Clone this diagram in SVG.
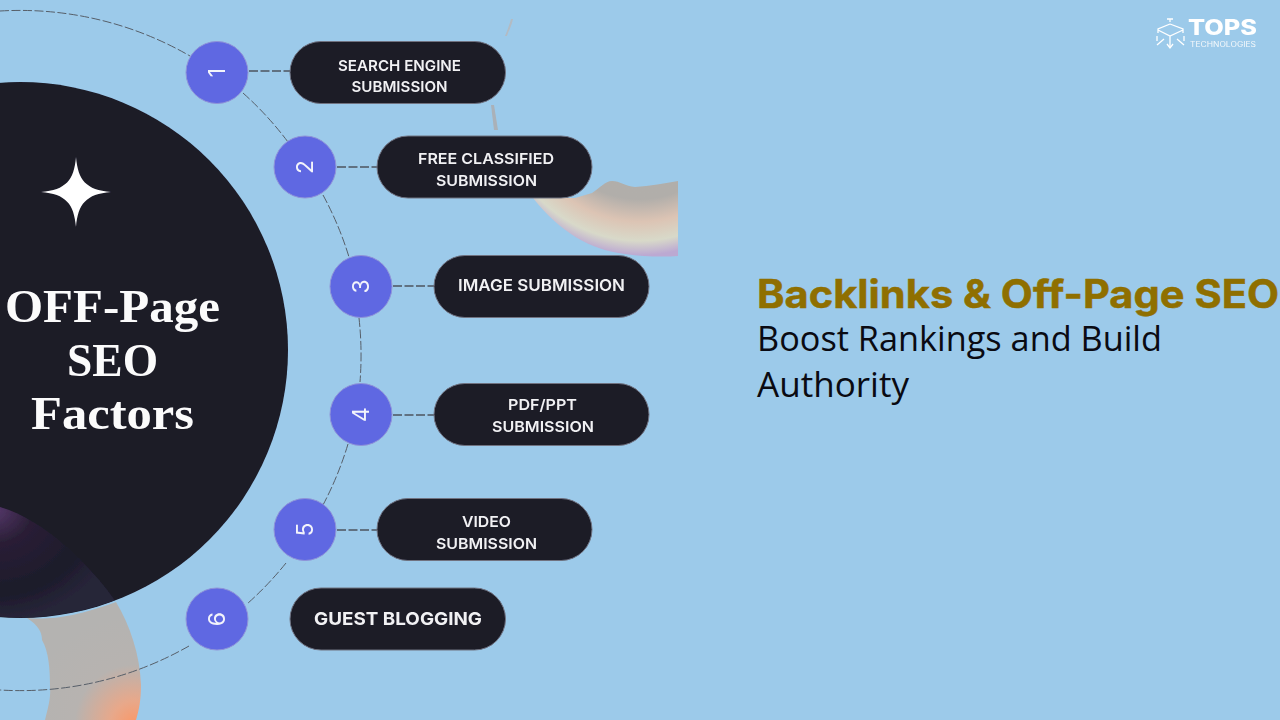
<svg xmlns="http://www.w3.org/2000/svg" width="1280" height="720" viewBox="0 0 1280 720">
<style>
.pill{fill:#1b1a27;stroke:#6f7280;stroke-width:1}
.num{fill:#5f68e2;stroke:#8f93d8;stroke-width:1}
.numt{font-family:Inter,"Liberation Sans",sans-serif;font-size:23px;font-weight:400;fill:#f3f4fb;text-anchor:middle}
.pt{font-family:Inter,"Liberation Sans",sans-serif;font-weight:600;font-size:15px;fill:#f1f1f3;text-anchor:middle}
.big{font-family:"Liberation Serif",serif;font-weight:700;font-size:47px;fill:#fbfbfb;text-anchor:middle}
.conn{fill:none;stroke:#565e68;stroke-width:1;stroke-dasharray:9 2.5}
.stub{fill:none;stroke:#4c5560;stroke-width:1.4;stroke-dasharray:9 2.5}
.sub{font-family:"Open Sans",sans-serif;font-size:34px;fill:#0a0a12}
</style>
<defs>
<radialGradient id="g1" cx="640" cy="100" r="160" gradientUnits="userSpaceOnUse"><stop offset="0" stop-color="#b0afab"/><stop offset=".62" stop-color="#b1aeaa"/><stop offset=".76" stop-color="#dcc4b4"/><stop offset=".88" stop-color="#d8d9c9"/><stop offset=".97" stop-color="#bca9d2"/></radialGradient>
<radialGradient id="g2" cx="135" cy="725" r="110" gradientUnits="userSpaceOnUse"><stop offset="0" stop-color="#fb9766"/><stop offset=".22" stop-color="#e8a88a"/><stop offset=".55" stop-color="#b7b3b0"/><stop offset="1" stop-color="#b4b3b1"/></radialGradient>
<radialGradient id="g3" cx="0" cy="0" r="1" gradientUnits="userSpaceOnUse" gradientTransform="translate(-5 510) scale(125 110)"><stop offset="0" stop-color="#55376a"/><stop offset=".3" stop-color="#2a1f36"/><stop offset=".75" stop-color="#1c1a2a"/><stop offset="1" stop-color="#272539"/></radialGradient>
<filter id="soft" x="-5%" y="-5%" width="110%" height="110%"><feGaussianBlur stdDeviation="0.5"/></filter>
<clipPath id="bigclip"><circle cx="20" cy="350" r="267.500"/></clipPath>
</defs>
<rect width="1280" height="720" fill="#9ccaea"/>
<g id="decor" filter="url(#soft)">
<path d="M533 198C560 232 590 250 625 254C645 257 665 257 678 256V181C665 183 650 186 635 187C625 186 620 181 612 181C605 181 600 188 592 193L575 198Z" fill="url(#g1)"/>
<path d="M511 19C509 26 507 31 505 36L507 36C509 30 512 25 513 19Z" fill="#b3bbc3"/>
<path d="M491 105L494 130L498 130L494 105Z" fill="#aab1b8"/>
<path d="M27 618C50 620 75 617 116 602C130 625 140 655 141 685C141 700 139 710 136 720H45C48 708 51 697 50 688C50 670 49 652 42 640C42 632 38 625 27 618Z" fill="url(#g2)"/>
</g>
<g id="hub" filter="url(#soft)">
<circle cx="20" cy="350" r="268" fill="#1b1a27"/>
<path d="M0 507C45 520 90 565 116 602C80 615 40 620 0 618Z" fill="url(#g3)" clip-path="url(#bigclip)"/>
<path d="M76 157C78 180 86 190 111 192C86 194 78 204 76 227C74 204 66 194 41 192C66 190 74 180 76 157Z" fill="#fff"/>
<text class="big" x="112.500" y="322" textLength="215" lengthAdjust="spacingAndGlyphs">OFF-Page</text>
<text class="big" x="112.500" y="376" textLength="91" lengthAdjust="spacingAndGlyphs">SEO</text>
<text class="big" x="112.500" y="429" textLength="163" lengthAdjust="spacingAndGlyphs">Factors</text>
</g>
<g id="connectors" filter="url(#soft)">
<path class="conn" d="M0 11A340 340 0 0 1 190 56"/>
<path class="conn" d="M243 93A340 340 0 0 1 288 142"/>
<path class="conn" d="M323 195A340 340 0 0 1 349 257"/>
<path class="conn" d="M359 318A340 340 0 0 1 360 382"/>
<path class="conn" d="M348 444A340 340 0 0 1 323 505"/>
<path class="conn" d="M286 563A340 340 0 0 1 247 604"/>
<path class="conn" d="M189 646A340 340 0 0 1 0 690"/>
<path class="stub" d="M249 71H290"/>
<path class="stub" d="M337 167H377"/>
<path class="stub" d="M393 286H434"/>
<path class="stub" d="M393 415H434"/>
<path class="stub" d="M337 530H377"/>
</g>
<g filter="url(#soft)">
<g id="node1"><circle class="num" cx="217" cy="72.500" r="31"/><text class="numt" transform="translate(217 72.500) rotate(-90)" y="8">1</text><rect class="pill" x="290" y="41.500" width="215.500" height="62" rx="31"/><text class="pt" x="399.500" y="71" textLength="123" lengthAdjust="spacingAndGlyphs">SEARCH ENGINE</text><text class="pt" x="399.500" y="92" textLength="96" lengthAdjust="spacingAndGlyphs">SUBMISSION</text></g>
<g id="node2"><circle class="num" cx="305" cy="167" r="31"/><text class="numt" transform="translate(305 167) rotate(-90)" y="8">2</text><rect class="pill" x="377" y="136" width="215" height="62" rx="31"/><text class="pt" x="486" y="164" textLength="136" lengthAdjust="spacingAndGlyphs">FREE CLASSIFIED</text><text class="pt" x="486.500" y="186" textLength="101" lengthAdjust="spacingAndGlyphs">SUBMISSION</text></g>
<g id="node3"><circle class="num" cx="361" cy="286.500" r="31"/><text class="numt" transform="translate(361 286.500) rotate(-90)" y="8">3</text><rect class="pill" x="434" y="255.500" width="215" height="62" rx="31"/><text class="pt" x="541.500" y="291" textLength="167" lengthAdjust="spacingAndGlyphs" style="font-size:16px">IMAGE SUBMISSION</text></g>
<g id="node4"><circle class="num" cx="361" cy="414.500" r="31"/><text class="numt" transform="translate(361 414.500) rotate(-90)" y="8">4</text><rect class="pill" x="434" y="383.500" width="215" height="62" rx="31"/><text class="pt" x="542.500" y="410" textLength="69" lengthAdjust="spacingAndGlyphs">PDF/PPT</text><text class="pt" x="543" y="432" textLength="102" lengthAdjust="spacingAndGlyphs">SUBMISSION</text></g>
<g id="node5"><circle class="num" cx="305" cy="529.500" r="31"/><text class="numt" transform="translate(305 529.500) rotate(-90)" y="8">5</text><rect class="pill" x="377" y="498.500" width="215" height="62" rx="31"/><text class="pt" x="486.500" y="527" textLength="49" lengthAdjust="spacingAndGlyphs">VIDEO</text><text class="pt" x="486.500" y="549" textLength="101" lengthAdjust="spacingAndGlyphs">SUBMISSION</text></g>
<g id="node6"><circle class="num" cx="217" cy="619" r="31"/><text class="numt" transform="translate(217 619) rotate(-90)" y="8">6</text><rect class="pill" x="290" y="588" width="215.500" height="62" rx="31"/><text class="pt" x="398" y="625" textLength="168" lengthAdjust="spacingAndGlyphs" style="font-size:18px;font-weight:700">GUEST BLOGGING</text></g>
</g>
<g id="logo" filter="url(#soft)">
<g fill="none" stroke="#fff" stroke-width="1.3"><path d="M1170 24L1158 29V33M1170 24L1183 29V33M1158 30L1170 36L1183 30M1170 36V47M1157 36V41M1184 36V41"/><path d="M1167 44L1170 48L1173 44M1157 45L1164 39M1184 45L1177 39M1167 19H1173M1170 19V22"/></g>
<text x="1188" y="35" font-family="Inter,'Liberation Sans',sans-serif" font-weight="800" font-size="21" fill="#fff" textLength="69" lengthAdjust="spacingAndGlyphs">TOPS</text>
<text x="1190" y="47" font-family="Inter,'Liberation Sans',sans-serif" font-size="7" fill="#f4f8fb" textLength="66" lengthAdjust="spacingAndGlyphs">TECHNOLOGIES</text>
</g>
<g id="headline">
<text x="757" y="308" font-family="Inter,'Open Sans',sans-serif" font-weight="700" font-size="39" fill="#8f6f00" stroke="#8f6f00" stroke-width=".5" textLength="522" lengthAdjust="spacingAndGlyphs">Backlinks &amp; Off-Page SEO</text>
<text class="sub" x="757" y="351" textLength="405" lengthAdjust="spacingAndGlyphs">Boost Rankings and Build</text>
<text class="sub" x="757" y="397" textLength="152" lengthAdjust="spacingAndGlyphs">Authority</text>
</g>
</svg>
